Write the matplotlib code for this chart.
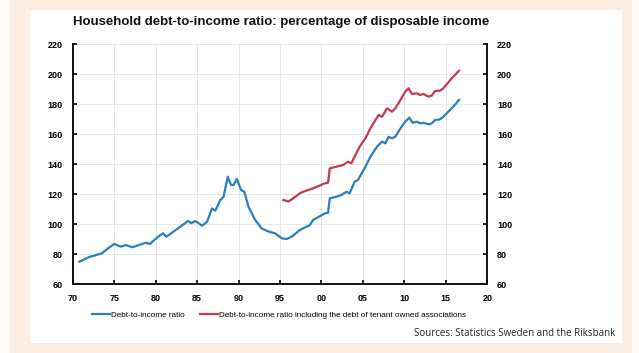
import matplotlib.pyplot as plt
from matplotlib.patches import Rectangle
from matplotlib.lines import Line2D

# Debt-to-income ratio
blue_year = [1970.8, 1972.0, 1973.5, 1974.2, 1975.0, 1975.8, 1976.4, 1977.2, 1978.8, 1979.3,
             1980.3, 1980.9, 1981.3, 1982.7, 1983.9, 1984.3, 1984.8, 1985.6, 1986.2, 1986.8,
             1987.2, 1987.8, 1988.2, 1988.7, 1989.1, 1989.4, 1989.8, 1990.3, 1990.7, 1991.2,
             1992.0, 1992.8, 1993.6, 1994.4, 1995.2, 1995.8, 1996.4, 1997.4, 1998.6, 1999.0,
             2000.4, 2000.8, 2001.0, 2001.8, 2002.4, 2003.0, 2003.4, 2004.0, 2004.4, 2005.3,
             2005.9, 2006.7, 2007.3, 2007.7, 2008.1, 2008.5, 2008.9, 2009.5, 2010.1, 2010.6,
             2011.0, 2011.5, 2011.9, 2012.3, 2012.9, 2013.3, 2013.7, 2014.3, 2014.7, 2015.7,
             2016.6]
blue_val = [74.9, 78.0, 80.4, 83.5, 86.7, 84.9, 86.0, 84.5, 87.5, 86.7,
            91.5, 93.8, 91.5, 97.1, 102.0, 100.5, 102.0, 98.9, 101.5, 110.4,
            108.9, 116.0, 118.2, 131.5, 126.0, 126.0, 130.0, 122.7, 121.5, 111.5,
            102.7, 97.0, 95.0, 93.8, 90.5, 90.0, 91.5, 96.0, 99.3, 102.7,
            107.1, 107.5, 117.1, 118.2, 119.3, 121.5, 120.5, 128.2, 129.3, 138.2,
            144.9, 151.5, 154.9, 153.8, 158.2, 157.1, 158.2, 163.5, 168.2, 170.9,
            167.5, 168.2, 167.1, 167.5, 166.4, 167.1, 169.3, 169.8, 171.5, 177.1,
            182.7]

# Including the debt of tenant owned associations
red_year = [1995.4, 1996.0, 1996.6, 1997.4, 1997.8, 1999.0, 2000.4, 2000.8, 2001.0, 2001.8,
            2002.6, 2003.2, 2003.6, 2004.2, 2004.6, 2005.3, 2005.9, 2006.5, 2006.9, 2007.3,
            2007.9, 2008.5, 2008.9, 2009.5, 2010.1, 2010.5, 2010.9, 2011.5, 2011.9, 2012.3,
            2012.9, 2013.3, 2013.7, 2014.3, 2014.7, 2015.7, 2016.6]
red_val = [116.0, 115.0, 117.1, 120.5, 121.5, 123.8, 127.1, 127.5, 137.1, 138.2,
           139.3, 141.5, 140.5, 147.1, 151.5, 157.1, 163.8, 169.3, 172.7, 171.5,
           177.1, 174.9, 177.1, 182.5, 188.2, 190.5, 186.7, 187.1, 186.0, 186.7,
           184.9, 185.6, 188.7, 188.9, 190.5, 197.1, 202.2]

x_ticks = list(range(1970, 2021, 5))
x_labels = ["70", "75", "80", "85", "90", "95", "00", "05", "10", "15", "20"]
y_ticks = list(range(60, 221, 20))

blue = '#2a80b8'
red = '#c23a4c'
font = 'Liberation Sans'

fig = plt.figure(figsize=(6.39, 3.53), dpi=100)
fig.patch.set_facecolor('#fffaf6')
# peach frame and white panel
fig.add_artist(Rectangle((10 / 639, 0), 622 / 639, 1, transform=fig.transFigure,
                         facecolor='#fcede2', edgecolor='none', zorder=-2))
fig.add_artist(Rectangle((30 / 639, 10 / 353), 592 / 639, 333 / 353, transform=fig.transFigure,
                         facecolor='white', edgecolor='none', zorder=-1))

ax = fig.add_axes([72.7 / 639, 1 - 284 / 353, (487.3 - 72.7) / 639, 240 / 353])
ax.set_facecolor('none')
ax.plot(blue_year, blue_val, color=blue, lw=1.6, solid_joinstyle='round')
ax.plot(red_year, red_val, color=red, lw=1.6, solid_joinstyle='round')

ax.set_xlim(1970, 2020)
ax.set_ylim(60, 220)
ax.set_xticks(x_ticks)
ax.set_xticklabels(x_labels)
ax.set_yticks(y_ticks)
ax.grid(True, color='#e6e6e6', lw=0.7)
ax.set_axisbelow(True)
for s in ax.spines.values():
    s.set_linewidth(1.3)
ax.spines['top'].set_visible(False)
ax.tick_params(axis='both', direction='in', length=3, width=1.2, labelsize=6.5, pad=7)
ax.tick_params(axis='y', right=True)
for lab in ax.get_xticklabels() + ax.get_yticklabels():
    lab.set_fontweight('bold')
    lab.set_family(font)

ax2 = ax.twinx()
ax2.set_ylim(60, 220)
ax2.set_yticks(y_ticks)
ax2.tick_params(axis='y', direction='in', length=3, width=1.2, labelsize=6.5, pad=7)
for s in ax2.spines.values():
    s.set_visible(False)
for lab in ax2.get_yticklabels():
    lab.set_fontweight('bold')
    lab.set_family(font)

fig.text(73 / 639, 1 - 22 / 353, "Household debt-to-income ratio: percentage of disposable income",
         fontsize=9.5, fontweight='bold', family=font, va='center', ha='left', color='#111111')

handles = [Line2D([], [], color=blue, lw=1.6), Line2D([], [], color=red, lw=1.6)]
fig.legend(handles, ["Debt-to-income ratio",
                     "Debt-to-income ratio including the debt of tenant owned associations"],
           loc='center', bbox_to_anchor=(279 / 639, 1 - 315 / 353), ncol=2, frameon=False,
           prop={'family': font, 'size': 5.9}, handlelength=2.2, handletextpad=0.1,
           columnspacing=1.8)

fig.text(615 / 639, 1 - 333 / 353, "Sources: Statistics Sweden and the Riksbank",
         fontsize=7, family='Open Sans', ha='right', va='center', color='#222222')

fig.savefig('out.png', dpi=100, facecolor=fig.get_facecolor())
